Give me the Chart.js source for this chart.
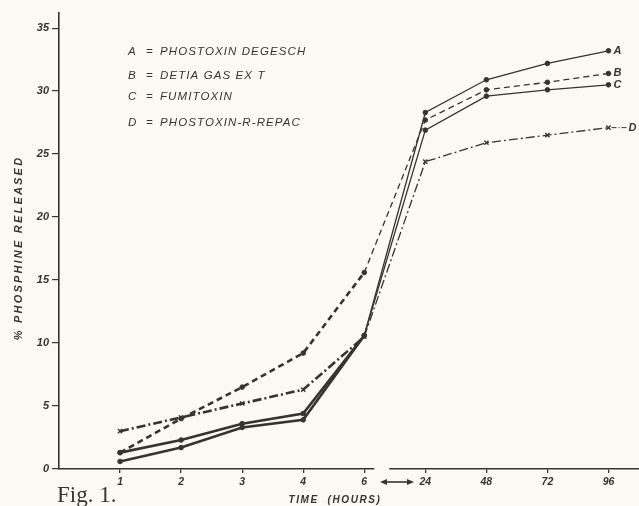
<!DOCTYPE html>
<html>
<head>
<meta charset="utf-8">
<script src="https://cdn.jsdelivr.net/npm/chart.js@4.4.1/dist/chart.umd.min.js"></script>
<style>
  html, body { margin: 0; padding: 0; background: #fbfaf2; }
  canvas { display: block; }
</style>
</head>
<body>
<canvas id="phChart" width="639" height="506"></canvas>
<script>
// Data (% phosphine released vs time in hours)
const hours = ['1', '2', '3', '4', '6', '24', '48', '72', '96'];
const seriesA = [1.3, 2.3, 3.6, 4.4, 10.6, 28.3, 30.9, 32.2, 33.2];
const seriesB = [1.3, 4.0, 6.5, 9.2, 15.6, 27.7, 30.1, 30.7, 31.4];
const seriesC = [0.6, 1.7, 3.3, 3.9, 10.6, 26.9, 29.6, 30.1, 30.5];
const seriesD = [3.0, 4.1, 5.2, 6.3, 10.5, 24.4, 25.9, 26.5, 27.1];
const letters = ['A', 'B', 'C', 'D'];
const products = ['PHOSTOXIN DEGESCH', 'DETIA GAS EX T', 'FUMITOXIN', 'PHOSTOXIN-R-REPAC'];
const yTicks = [0, 5, 10, 15, 20, 25, 30, 35];

const INK = '#36352b';
const BG = '#fbfaf2';

const toPoints = vals => vals.map((v, i) => ({ x: i, y: v }));
// thicker strokes over the early hours, thinner afterwards (as drawn)
const widthBySeg = (early, late) => ctx => ctx.p0DataIndex < 4 ? early : late;

function makeSet(label, vals, dash, style) {
    return {
        label: label,
        data: toPoints(vals),
        borderColor: INK,
        backgroundColor: INK,
        borderDash: dash,
        borderWidth: 1.4,
        pointStyle: style,
        pointRadius: style === 'crossRot' ? 3 : 2.3,
        pointBorderWidth: style === 'crossRot' ? 1.4 : 1,
        tension: 0,
        segment: { borderWidth: widthBySeg(2.6, 1.3) }
    };
}

// Paper background + annotations
const annotations = {
    id: 'annotations',
    beforeDraw(chart) {
        const c = chart.ctx;
        c.save();
        c.fillStyle = BG;
        c.fillRect(0, 0, chart.width, chart.height);
        c.restore();
    },
    afterDraw(chart) {
        const c = chart.ctx;
        const xs = chart.scales.x, ys = chart.scales.y;
        c.save();
        c.fillStyle = INK;
        c.strokeStyle = INK;

        // legend block
        const legendY = [52, 76, 97, 123];
        c.font = 'italic 11.5px "Liberation Sans"';
        c.textBaseline = 'middle';
        c.letterSpacing = '1.1px';
        letters.forEach((l, i) => {
            c.fillText(l, 128, legendY[i]);
            c.fillText('=', 146, legendY[i]);
            c.fillText(products[i], 160, legendY[i]);
        });

        // letters at the line ends
        c.font = 'bold italic 11px "Liberation Sans"';
        c.letterSpacing = '0px';
        const ends = [seriesA, seriesB, seriesC, seriesD];
        ends.forEach((vals, i) => {
            const last = vals.length - 1;
            const px = xs.getPixelForValue(last) + (i === 3 ? 20 : 5);
            c.fillText(letters[i], px, ys.getPixelForValue(vals[last]));
        });
        // dash-dot tail of D toward its letter
        c.lineWidth = 1;
        c.setLineDash([5, 2, 1, 2]);
        c.beginPath();
        c.moveTo(xs.getPixelForValue(8) + 3, ys.getPixelForValue(seriesD[8]));
        c.lineTo(xs.getPixelForValue(8) + 18, ys.getPixelForValue(seriesD[8]));
        c.stroke();
        c.setLineDash([]);

        // y title
        c.save();
        c.translate(19, 248);
        c.rotate(-Math.PI / 2);
        c.textAlign = 'center';
        c.font = 'bold italic 11px "Liberation Sans"';
        c.letterSpacing = '2.2px';
        c.fillText('% PHOSPHINE RELEASED', 0, 0);
        c.restore();

        // x title
        c.textAlign = 'center';
        c.font = 'bold italic 10px "Liberation Sans"';
        c.letterSpacing = '1.6px';
        c.fillText('TIME  (HOURS)', 335, 500);

        // break in the time axis between 6 and 24
        const bx = xs.getPixelForValue(4) + 10;
        c.fillStyle = BG;
        c.fillRect(bx, xs.top - 3, 15, 6);
        c.fillStyle = INK;

        // double arrow under the break
        const ay = 482, a0 = 380, a1 = 414;
        c.lineWidth = 1.6;
        c.beginPath();
        c.moveTo(a0 + 4, ay);
        c.lineTo(a1 - 4, ay);
        c.stroke();
        c.beginPath();
        c.moveTo(a0, ay); c.lineTo(a0 + 7, ay - 3); c.lineTo(a0 + 7, ay + 3); c.closePath();
        c.moveTo(a1, ay); c.lineTo(a1 - 7, ay - 3); c.lineTo(a1 - 7, ay + 3); c.closePath();
        c.fill();

        // caption
        c.textAlign = 'left';
        c.textBaseline = 'alphabetic';
        c.letterSpacing = '0px';
        c.font = '23px "Liberation Serif"';
        c.fillText('Fig. 1.', 57, 502);
        c.restore();
    }
};

new Chart(document.getElementById('phChart'), {
    type: 'line',
    data: {
        datasets: [
            makeSet('A', seriesA, [], 'circle'),
            makeSet('B', seriesB, [6, 4], 'circle'),
            makeSet('C', seriesC, [], 'circle'),
            makeSet('D', seriesD, [9, 3, 2, 3], 'crossRot')
        ]
    },
    options: {
        responsive: false,
        animation: false,
        layout: { autoPadding: false, padding: { top: 13, left: 0, right: 0, bottom: 0 } },
        plugins: {
            legend: { display: false },
            tooltip: { enabled: false }
        },
        scales: {
            x: {
                type: 'linear',
                min: -1,
                max: 8.5,
                afterBuildTicks: scale => { scale.ticks = hours.map((h, i) => ({ value: i })); },
                afterFit: scale => {
                    scale.height = 37;
                    scale.paddingLeft = 0;
                    scale.paddingRight = 0;
                },
                ticks: {
                    autoSkip: false,
                    maxRotation: 0,
                    padding: 3,
                    color: INK,
                    font: { family: '"Liberation Sans"', size: 10.5, style: 'italic', weight: 'bold' },
                    callback: v => hours[v]
                },
                grid: { drawOnChartArea: false, drawTicks: true, tickLength: 4, color: INK, lineWidth: 1.3 },
                border: { display: true, color: INK, width: 1.6 }
            },
            y: {
                min: 0,
                max: 36.2,
                afterBuildTicks: scale => { scale.ticks = yTicks.map(v => ({ value: v })); },
                afterFit: scale => {
                    scale.width = 59;
                    scale.paddingTop = 0;
                    scale.paddingBottom = 0;
                },
                ticks: {
                    padding: 3,
                    color: INK,
                    font: { family: '"Liberation Sans"', size: 11, style: 'italic', weight: 'bold' }
                },
                grid: { drawOnChartArea: false, drawTicks: true, tickLength: 7, color: INK, lineWidth: 1.2 },
                border: { display: true, color: INK, width: 1.6 }
            }
        }
    },
    plugins: [annotations]
});
</script>
</body>
</html>
